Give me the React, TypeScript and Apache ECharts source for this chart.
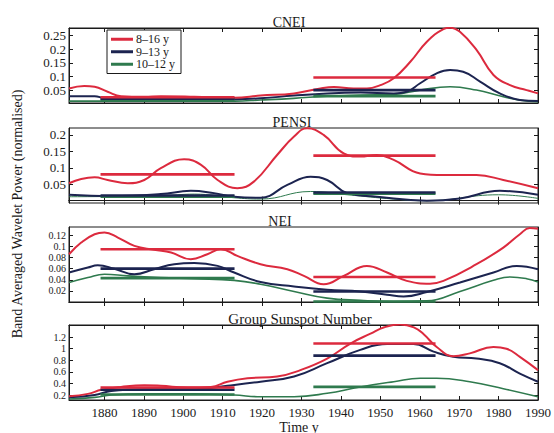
import React, { useEffect, useRef } from "react";
import * as echarts from "echarts";

// Wavelet band names and colours (same order in every panel)
const bandNames = ["8–16 y", "9–13 y", "10–12 y"];
const bandColors = ["#dc2a3e", "#1c2450", "#2f7a4e"];

// x axis ticks (years)
const yearTicks = [1880, 1890, 1900, 1910, 1920, 1930, 1940, 1950, 1960, 1970, 1980, 1990];

// Intervals over which the band power is averaged
const meanPeriods = [
  [1879, 1913],
  [1933, 1964],
];

// ---- CNEI ----
const cneiRed = [[1871, 0.057], [1874.9, 0.066], [1877.5, 0.063], [1880.8, 0.045], [1884.2, 0.029], [1890.1, 0.027], [1894.3, 0.029], [1902.8, 0.027], [1912.9, 0.023], [1919.6, 0.031], [1928.1, 0.039], [1934.8, 0.057], [1938.2, 0.062], [1943.2, 0.057], [1946.6, 0.057], [1950, 0.069], [1953.4, 0.094], [1957.6, 0.154], [1961.8, 0.227], [1966, 0.273], [1967.7, 0.278], [1970.2, 0.263], [1974.4, 0.197], [1978.7, 0.106], [1982.9, 0.069], [1987.1, 0.051], [1990, 0.039]];
const cneiNavy = [[1871, 0.029], [1877.5, 0.029], [1880, 0.021], [1886, 0.018], [1903, 0.018], [1913, 0.018], [1919.6, 0.021], [1928, 0.031], [1936.5, 0.039], [1945, 0.042], [1953.4, 0.039], [1956.7, 0.045], [1960, 0.075], [1964.3, 0.112], [1967.7, 0.124], [1971, 0.118], [1975.3, 0.082], [1980.3, 0.039], [1985.4, 0.015], [1990, 0.011]];
const cneiGreen = [[1871, 0.011], [1890, 0.011], [1913, 0.011], [1919.6, 0.015], [1928, 0.021], [1936.5, 0.029], [1945, 0.033], [1953.4, 0.035], [1960, 0.051], [1967.7, 0.063], [1974.4, 0.051], [1981.2, 0.027], [1987.1, 0.011], [1990, 0.009]];
const cneiMeans = [[0.025, 0.097], [0.02, 0.051], [0.015, 0.029]];
const cneiTicks = [0.05, 0.1, 0.15, 0.2, 0.25];

// ---- PENSI ----
const pensiRed = [[1871, 0.053], [1874.1, 0.066], [1877.5, 0.071], [1880.8, 0.063], [1885.9, 0.053], [1890.1, 0.063], [1894.3, 0.099], [1900.2, 0.126], [1904.5, 0.109], [1908.7, 0.063], [1913.7, 0.038], [1917.9, 0.058], [1923.8, 0.139], [1928.1, 0.195], [1931.4, 0.22], [1935.6, 0.2], [1940.7, 0.144], [1944.9, 0.134], [1949.1, 0.139], [1953.4, 0.124], [1960.1, 0.083], [1966, 0.078], [1974.4, 0.078], [1981.2, 0.063], [1990, 0.038]];
const pensiNavy = [[1871, 0.018], [1881.7, 0.014], [1894.3, 0.02], [1901.9, 0.03], [1907.8, 0.023], [1912.9, 0.012], [1919.6, 0.009], [1926.4, 0.048], [1932.3, 0.073], [1936.5, 0.063], [1941.6, 0.023], [1949.1, 0.012], [1961.8, 0.0], [1970.2, 0.007], [1980.3, 0.03], [1990, 0.018]];
const pensiGreen = [[1871, 0.012], [1894.3, 0.015], [1902.8, 0.02], [1912.9, 0.009], [1919.6, 0.005], [1932.3, 0.028], [1941.6, 0.018], [1953.4, 0.005], [1961.8, 0.0], [1980, 0.018], [1990, 0.007]];
const pensiMeans = [[0.08, 0.137], [0.016, 0.025], [0.012, 0.021]];
const pensiTicks = [0.05, 0.1, 0.15, 0.2];

// ---- NEI ----
const neiRed = [[1871, 0.086], [1874.1, 0.107], [1877.5, 0.122], [1880, 0.125], [1883.4, 0.116], [1887.6, 0.101], [1892.6, 0.094], [1896.9, 0.089], [1901.9, 0.077], [1906.1, 0.086], [1909.5, 0.095], [1913.7, 0.083], [1919.6, 0.068], [1926.4, 0.059], [1930.6, 0.047], [1935.6, 0.032], [1940.7, 0.047], [1946.6, 0.065], [1951.7, 0.053], [1956.7, 0.038], [1962.6, 0.033], [1966, 0.038], [1974.4, 0.068], [1981.2, 0.098], [1985.4, 0.122], [1987.9, 0.133], [1990, 0.132]];
const neiNavy = [[1871, 0.053], [1875.8, 0.062], [1878.3, 0.066], [1882.5, 0.06], [1887.6, 0.05], [1892.6, 0.059], [1897.7, 0.068], [1902.8, 0.07], [1908.7, 0.065], [1912.9, 0.053], [1919.6, 0.036], [1928.1, 0.028], [1936.5, 0.022], [1944.9, 0.019], [1951.7, 0.013], [1955.9, 0.01], [1961.8, 0.018], [1970.2, 0.035], [1978.7, 0.053], [1984.6, 0.065], [1990, 0.059]];
const neiGreen = [[1871, 0.035], [1875.8, 0.044], [1880, 0.05], [1885.9, 0.047], [1894.3, 0.044], [1902.8, 0.042], [1912.9, 0.039], [1919.6, 0.032], [1928.1, 0.019], [1936.5, 0.007], [1944.9, 0.003], [1953.4, 0.001], [1961.8, 0.002], [1970.2, 0.019], [1978.7, 0.039], [1982.9, 0.045], [1987.1, 0.042], [1990, 0.036]];
const neiMeans = [[0.095, 0.045], [0.06, 0.019], [0.043, 0.001]];
const neiTicks = [0.02, 0.04, 0.06, 0.08, 0.1, 0.12];

// ---- Group Sunspot Number ----
const gsnRed = [[1871, 0.18], [1875.8, 0.22], [1879.2, 0.29], [1884.2, 0.34], [1890.1, 0.37], [1894.3, 0.36], [1901.1, 0.33], [1907, 0.34], [1911.2, 0.43], [1916.3, 0.49], [1923.8, 0.52], [1929.7, 0.63], [1936.5, 0.83], [1942.4, 1.09], [1947.5, 1.26], [1951, 1.37], [1955, 1.42], [1958.5, 1.37], [1961, 1.25], [1964.3, 1.03], [1968.5, 0.87], [1972.7, 0.92], [1978.7, 1.03], [1982, 1.0], [1985.4, 0.86], [1990, 0.63]];
const gsnNavy = [[1871, 0.16], [1877.5, 0.2], [1881.7, 0.27], [1890.1, 0.3], [1902.8, 0.3], [1911.2, 0.36], [1919.6, 0.43], [1928.1, 0.52], [1936.5, 0.75], [1944.9, 0.98], [1951.7, 1.08], [1958.4, 1.08], [1963.5, 0.95], [1968.5, 0.86], [1974.4, 0.83], [1980.3, 0.75], [1985.4, 0.57], [1990, 0.43]];
const gsnGreen = [[1871, 0.13], [1877.5, 0.16], [1881.7, 0.2], [1890.1, 0.22], [1902.8, 0.22], [1912.9, 0.2], [1919.6, 0.17], [1928.1, 0.17], [1936.5, 0.23], [1944.9, 0.34], [1953.4, 0.43], [1960.1, 0.49], [1964.3, 0.49], [1972.7, 0.43], [1981.2, 0.31], [1990, 0.17]];
const gsnMeans = [[0.33, 1.09], [0.29, 0.88], [0.21, 0.34]];
const gsnTicks = [0.2, 0.4, 0.6, 0.8, 1, 1.2];

const panelTitles = ["CNEI", "PENSI", "NEI", "Group Sunspot Number"];

const panels = [
  { curves: [cneiRed, cneiNavy, cneiGreen], means: cneiMeans, ticks: cneiTicks, min: 0.004, max: 0.277 },
  { curves: [pensiRed, pensiNavy, pensiGreen], means: pensiMeans, ticks: pensiTicks, min: -0.007, max: 0.221 },
  { curves: [neiRed, neiNavy, neiGreen], means: neiMeans, ticks: neiTicks, min: 0, max: 0.135 },
  { curves: [gsnRed, gsnNavy, gsnGreen], means: gsnMeans, ticks: gsnTicks, min: 0.114, max: 1.41 },
];

// Layout of the stacked panels
const W = 554;
const H = 433;
const plotLeft = 69;
const plotRight = 16;
const panelTops = [28, 128, 227, 325];
const panelHeight = 75;
const titleX = [289, 292, 280, 300];
// tick labels of the tightly packed axes are drawn smaller
const labelSizes = [13, 13, 10, 10];
const FONT = "'Liberation Serif', 'DejaVu Serif', serif";
const INK = "#1a1a1a";

export default function App() {
  const ref = useRef<HTMLDivElement>(null);

  useEffect(() => {
    if (!ref.current) return;
    const chart = echarts.init(ref.current, undefined, { renderer: "svg" });

    const grid: any[] = [];
    const xAxis: any[] = [];
    const yAxis: any[] = [];
    const series: any[] = [];
    const graphic: any[] = [];

    panels.forEach((p, i) => {
      grid.push({
        left: plotLeft,
        right: plotRight,
        top: panelTops[i],
        height: panelHeight,
        show: true,
        borderColor: INK,
        borderWidth: 1,
        backgroundColor: "#fff",
      });
      const isLast = i === panels.length - 1;
      const xBase = {
        type: "value",
        gridIndex: i,
        min: 1871,
        max: 1990,
        splitLine: { show: false },
        axisLine: { show: true, lineStyle: { color: INK, width: 1 } },
        axisTick: { show: true, inside: true, length: 4, customValues: yearTicks, lineStyle: { color: INK } },
      };
      xAxis.push({
        ...xBase,
        position: "bottom",
        axisLabel: {
          show: isLast,
          customValues: yearTicks,
          showMinLabel: true,
          showMaxLabel: true,
          color: INK,
          fontFamily: FONT,
          fontSize: 13,
          margin: 6,
          formatter: (v: number) => String(v),
        },
      });
      xAxis.push({ ...xBase, position: "top", axisLabel: { show: false } });

      const yBase = {
        type: "value",
        gridIndex: i,
        min: p.min,
        max: p.max,
        splitLine: { show: false },
        axisLine: { show: true, lineStyle: { color: INK, width: 1 } },
        axisTick: { show: true, inside: true, length: 4, customValues: p.ticks, lineStyle: { color: INK } },
      };
      yAxis.push({
        ...yBase,
        position: "left",
        axisLabel: {
          show: true,
          customValues: p.ticks,
          showMinLabel: true,
          showMaxLabel: true,
          hideOverlap: false,
          color: INK,
          fontFamily: FONT,
          fontSize: labelSizes[i],
          lineHeight: labelSizes[i],
          margin: 3,
          formatter: (v: number) => String(v),
        },
      });
      yAxis.push({ ...yBase, position: "right", axisLabel: { show: false } });

      // curves, green under navy under red
      [2, 1, 0].forEach((b) => {
        series.push({
          type: "line",
          name: bandNames[b],
          xAxisIndex: i * 2,
          yAxisIndex: i * 2,
          data: p.curves[b],
          smooth: 0.45,
          symbol: "none",
          lineStyle: { color: bandColors[b], width: i === 1 && b === 2 ? 1 : b === 2 ? 1.6 : 2 },
          itemStyle: { color: bandColors[b] },
          z: 3 + (2 - b),
        });
      });

      // interval means
      [2, 1, 0].forEach((b) => {
        meanPeriods.forEach((per, k) => {
          const v = p.means[b][k];
          series.push({
            type: "line",
            name: bandNames[b] + " mean " + (k + 1),
            xAxisIndex: i * 2,
            yAxisIndex: i * 2,
            data: [
              [per[0], v],
              [per[1], v],
            ],
            symbol: "none",
            lineStyle: { color: bandColors[b], width: 2.6 },
            z: 6,
          });
        });
      });

      graphic.push({
        type: "text",
        x: titleX[i],
        y: panelTops[i] + 1,
        style: {
          text: panelTitles[i],
          fill: INK,
          font: `${i === 3 ? 15 : 14}px ${FONT}`,
          textAlign: "center",
          textVerticalAlign: "bottom",
        },
      });
    });

    graphic.push({
      type: "text",
      x: 17,
      y: 214,
      rotation: Math.PI / 2,
      style: {
        text: "Band Averaged Wavelet Power (normalised)",
        fill: INK,
        font: `14px ${FONT}`,
        textAlign: "center",
        textVerticalAlign: "middle",
      },
    });
    graphic.push({
      type: "text",
      x: 299,
      y: 427,
      style: {
        text: "Time y",
        fill: INK,
        font: `14px ${FONT}`,
        textAlign: "center",
        textVerticalAlign: "middle",
      },
    });

    chart.setOption({
      animation: false,
      backgroundColor: "#fff",
      grid,
      xAxis,
      yAxis,
      series,
      graphic,
      legend: {
        data: bandNames.map((name) => ({ name, icon: "rect" })),
        orient: "vertical",
        left: 107,
        top: 30,
        selectedMode: false,
        backgroundColor: "#fff",
        borderColor: INK,
        borderWidth: 1,
        borderRadius: 0,
        padding: [3, 6, 3, 4],
        itemWidth: 22,
        itemHeight: 3,
        itemGap: 0,
        textStyle: { color: INK, fontFamily: FONT, fontSize: 12, lineHeight: 12.5, padding: [0, 0, 0, -2] },
        z: 10,
      },
    });

    return () => chart.dispose();
  }, []);

  return (
    <div
      ref={ref}
      style={{ position: "absolute", left: 0, top: 0, width: W, height: H, background: "#fff" }}
    />
  );
}
